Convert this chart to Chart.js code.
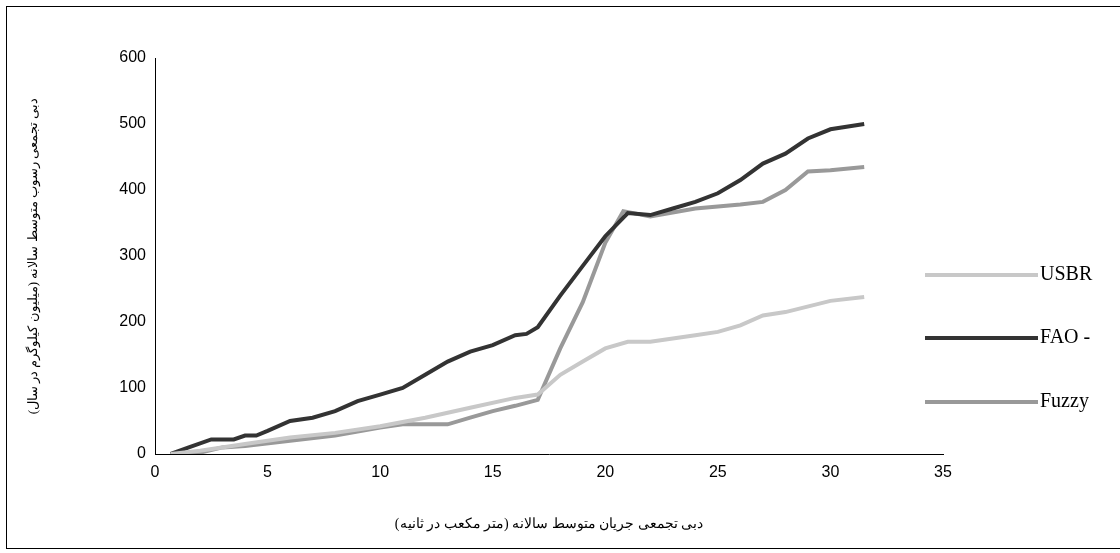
<!DOCTYPE html>
<html><head><meta charset="utf-8">
<script src="https://cdn.jsdelivr.net/npm/chart.js@4"></script>
<style>
body{margin:0;background:#fff}
#wrap{position:absolute;left:0;top:0;width:1120px;height:553px}
#frame{position:absolute;left:6px;top:6px;width:1120px;height:543px;border:1px solid #000;box-sizing:border-box}
</style></head><body>
<div id="wrap"><canvas id="c" width="1120" height="553"></canvas></div>
<div id="frame"></div>
<script>
const seriesNames = ["USBR", "FAO -", "Fuzzy"];
const usbr = [[0.7,0],[2,5],[4,15],[6,25],[8,32],[10,42],[12,55],[14,70],[16,85],[17,90],[18,120],[19,140],[20,160],[21,170],[22,170],[24,180],[25,185],[26,195],[27,210],[28,215],[30,232],[31.5,238]];
const fao = [[0.7,0],[1.5,10],[2.5,22],[3.5,22],[4,28],[4.5,28],[5,35],[6,50],[7,55],[8,65],[9,80],[10,90],[11,100],[12,120],[13,140],[14,155],[15,165],[16,180],[16.5,182],[17,192],[18,240],[19,285],[20,330],[21,365],[22,362],[23,372],[24,382],[25,395],[26,415],[27,440],[28,455],[29,478],[30,492],[31.5,500]];
const fuzzy = [[0.7,0],[2,2],[3,10],[4,12],[6,20],[8,28],[10,40],[11,45],[13,45],[14,55],[15,65],[16,73],[17,82],[18,160],[19,230],[20,320],[20.8,368],[22,360],[24,372],[26,378],[27,382],[28,400],[29,428],[30,430],[31.5,435]];
const colors = ["#c8c8c8", "#333333", "#999999"];
const pts = a => a.map(p => ({x: p[0], y: p[1]}));

const legendPlugin = {
  id: "sideLegend",
  afterDraw(chart) {
    const ctx = chart.ctx;
    ctx.save();
    ctx.font = "20px 'Liberation Serif'";
    ctx.textBaseline = "middle";
    [275, 338, 402].forEach((y, i) => {
      ctx.strokeStyle = colors[i];
      ctx.lineWidth = 4;
      ctx.beginPath(); ctx.moveTo(925, y); ctx.lineTo(1038, y); ctx.stroke();
      ctx.fillStyle = "#000";
      ctx.fillText(seriesNames[i], 1040, y);
    });
    ctx.restore();
  }
};

new Chart(document.getElementById("c"), {
  type: "line",
  data: {
    datasets: [
      {label: seriesNames[0], data: pts(usbr), borderColor: colors[0], borderWidth: 4, pointRadius: 0, tension: 0},
      {label: seriesNames[1], data: pts(fao), borderColor: colors[1], borderWidth: 4, pointRadius: 0, tension: 0},
      {label: seriesNames[2], data: pts(fuzzy), borderColor: colors[2], borderWidth: 4, pointRadius: 0, tension: 0},
    ],
  },
  options: {
    responsive: false,
    animation: false,
    layout: {padding: {left: 22, top: 58, right: 177, bottom: 16}},
    plugins: {legend: {display: false}, tooltip: {enabled: false}},
    scales: {
      x: {
        type: "linear", min: 0, max: 35,
        ticks: {stepSize: 5, color: "#000", font: {family: "Arial, 'Liberation Sans'", size: 16}},
        grid: {display: false, drawTicks: true, tickLength: 6, tickColor: "#000"},
        border: {color: "#000"},
        title: {display: true, text: "دبی تجمعی جریان متوسط سالانه (متر مکعب در ثانیه)", color: "#000", font: {family: "'Liberation Serif'", size: 14}, padding: {top: 31}}
      },
      y: {
        min: 0, max: 600,
        afterFit: s => { s.width = 133; },
        ticks: {stepSize: 100, color: "#000", font: {family: "Arial, 'Liberation Sans'", size: 16}},
        grid: {display: false, tickLength: 6, tickColor: "#000"},
        border: {color: "#000"},
        title: {display: true, text: "دبی تجمعی رسوب متوسط سالانه (میلیون کیلوگرم در سال)", color: "#000", font: {family: "'Liberation Serif'", size: 13}, padding: {bottom: 16}}
      }
    }
  },
  plugins: [legendPlugin]
});
</script></body></html>
